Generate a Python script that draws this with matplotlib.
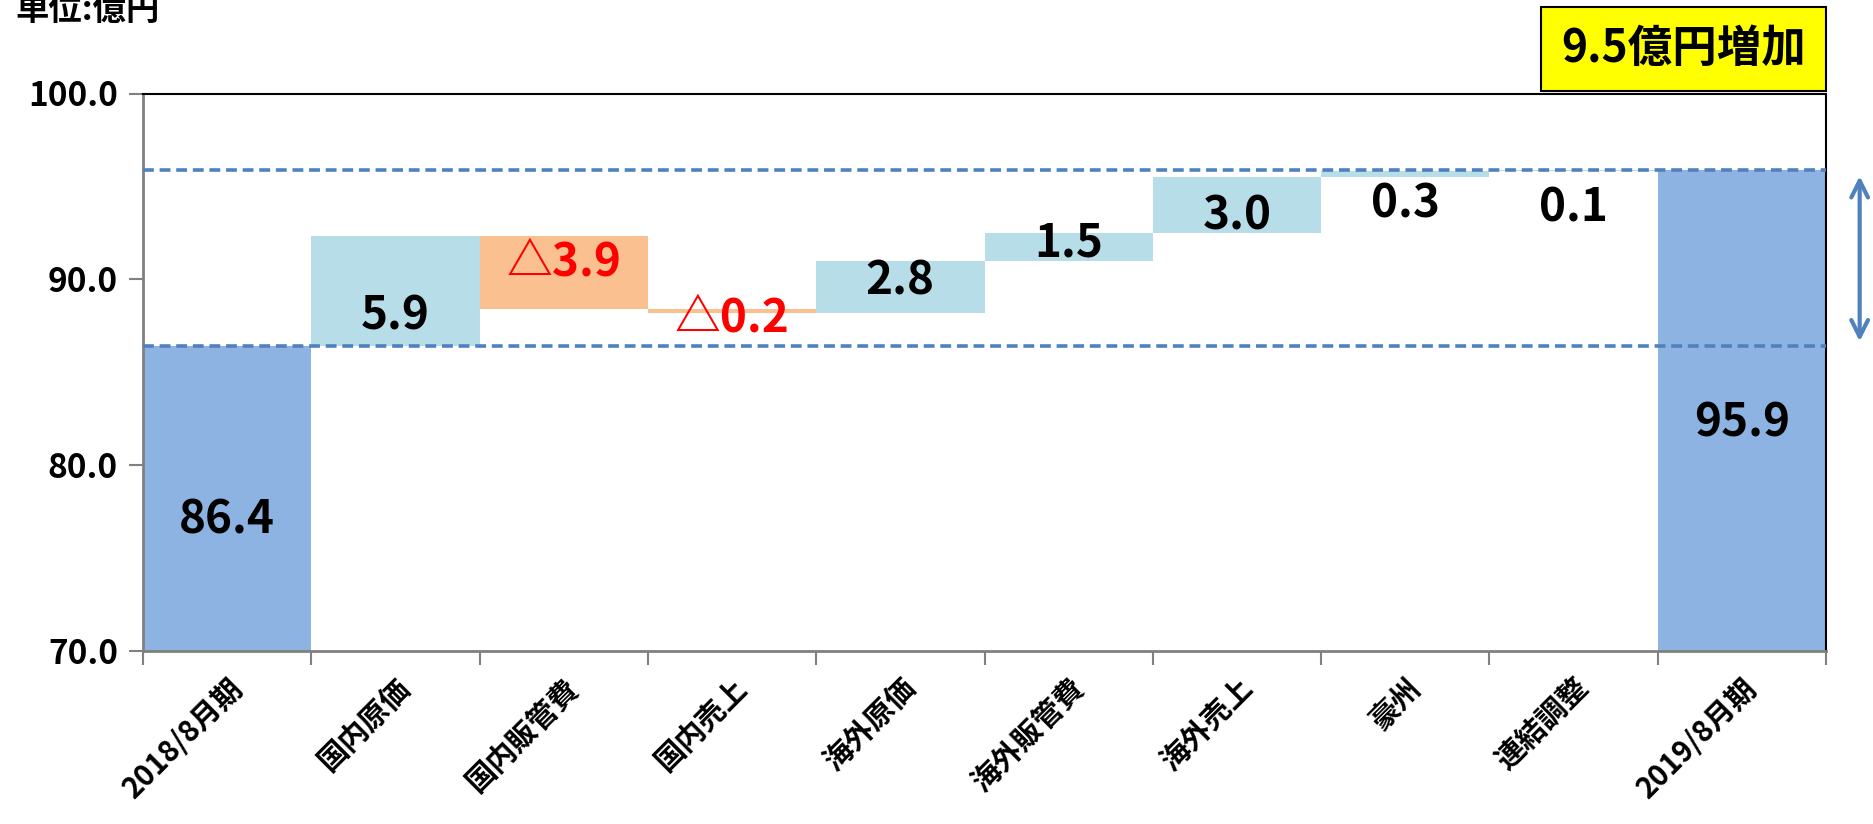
import matplotlib
matplotlib.use("Agg")
import matplotlib.pyplot as plt
from matplotlib.patches import Rectangle
import numpy as np

plt.rcParams['font.family'] = ['Noto Sans CJK JP', 'DejaVu Sans']

# データ
categories = ["2018/8月期", "国内原価", "国内販管費", "国内売上", "海外原価",
              "海外販管費", "海外売上", "豪州", "連結調整", "2019/8月期"]
start_value = 86.4
changes = [5.9, -3.9, -0.2, 2.8, 1.5, 3.0, 0.3, 0.1]
end_value = 95.9
label_y = [77.0, 88.0, 90.9, 87.9, 89.9, 91.9, 93.4, 94.0, 93.8, 82.2]
y_ticks = [70.0, 80.0, 90.0, 100.0]

c_total = "#8DB3E2"
c_up = "#B7DDE8"
c_down = "#FAC090"
c_line = "#4F81BD"

fig = plt.figure(figsize=(18.74, 8.24), dpi=100)
ax = fig.add_axes([143/1874, 1-650.5/824, (1826-143)/1874, (650.5-93.5)/824])

x = np.arange(len(categories))
ymin = 70.0

# 最初と最後
ax.bar(x[0], start_value - ymin, bottom=ymin, width=1.0, color=c_total)
ax.bar(x[-1], end_value - ymin, bottom=ymin, width=1.0, color=c_total)

# 増減
level = start_value
for i, d in enumerate(changes):
    lo = min(level, level + d)
    ax.bar(x[i+1], abs(d), bottom=lo, width=1.0,
           color=c_up if d >= 0 else c_down)
    level += d

# ラベル
texts = [f"{start_value:.1f}"]
for d in changes:
    texts.append(f"{d:.1f}" if d >= 0 else f"△{abs(d):.1f}")
texts.append(f"{end_value:.1f}")
for i, t in enumerate(texts):
    col = "red" if t.startswith("△") else "black"
    ax.text(x[i], label_y[i], t, ha="center", va="center", fontsize=33,
            fontweight="bold", color=col)

# 点線
ax.axhline(start_value, color=c_line, lw=2.6, ls=(0, (3, 1.6)), zorder=3)
ax.axhline(end_value, color=c_line, lw=2.6, ls=(0, (3, 1.6)), zorder=3)

# 矢印
ax.annotate("", xy=(1.020, 86.5), xytext=(1.020, 95.7),
            xycoords=("axes fraction", "data"), textcoords=("axes fraction", "data"),
            arrowprops=dict(arrowstyle="<->,head_length=1.2,head_width=0.6",
                            color=c_line, lw=3), annotation_clip=False)

ax.set_xlim(-0.5, len(categories) - 0.5)
ax.set_ylim(70, 100)
ax.set_yticks(y_ticks)
ax.set_yticklabels([f"{v:.1f}" for v in y_ticks], fontsize=24, fontweight="bold")
ax.tick_params(axis="y", length=10, width=1.5, color="#808080", pad=8)

ax.set_xticks(x)
ax.set_xticklabels(categories, rotation=45, ha="right", rotation_mode="anchor",
                   fontsize=21, fontweight="bold")
ax.tick_params(axis="x", which="major", length=0, pad=16)
ax.set_xticks(np.arange(-0.5, len(categories)), minor=True)
ax.tick_params(axis="x", which="minor", length=10, width=1.5, color="#808080")

for s in ["left", "bottom"]:
    ax.spines[s].set_color("#808080")
    ax.spines[s].set_linewidth(2)
for s in ["top", "right"]:
    ax.spines[s].set_color("black")
    ax.spines[s].set_linewidth(1.5)

# 単位
fig.text(15/1874, 1-20/824, "単位:億円", fontsize=24, fontweight="bold",
         ha="left", va="baseline")

# 黄色の枠
fig.add_artist(Rectangle((1541/1874, 1-91/824), (1826-1541)/1874, (91-7)/824,
                         transform=fig.transFigure, facecolor="yellow",
                         edgecolor="black", lw=1.5))
fig.text((1541+1826)/2/1874, 1-49/824, "9.5億円増加", fontsize=32,
         fontweight="bold", ha="center", va="center")

fig.savefig("out.png", dpi=100)
